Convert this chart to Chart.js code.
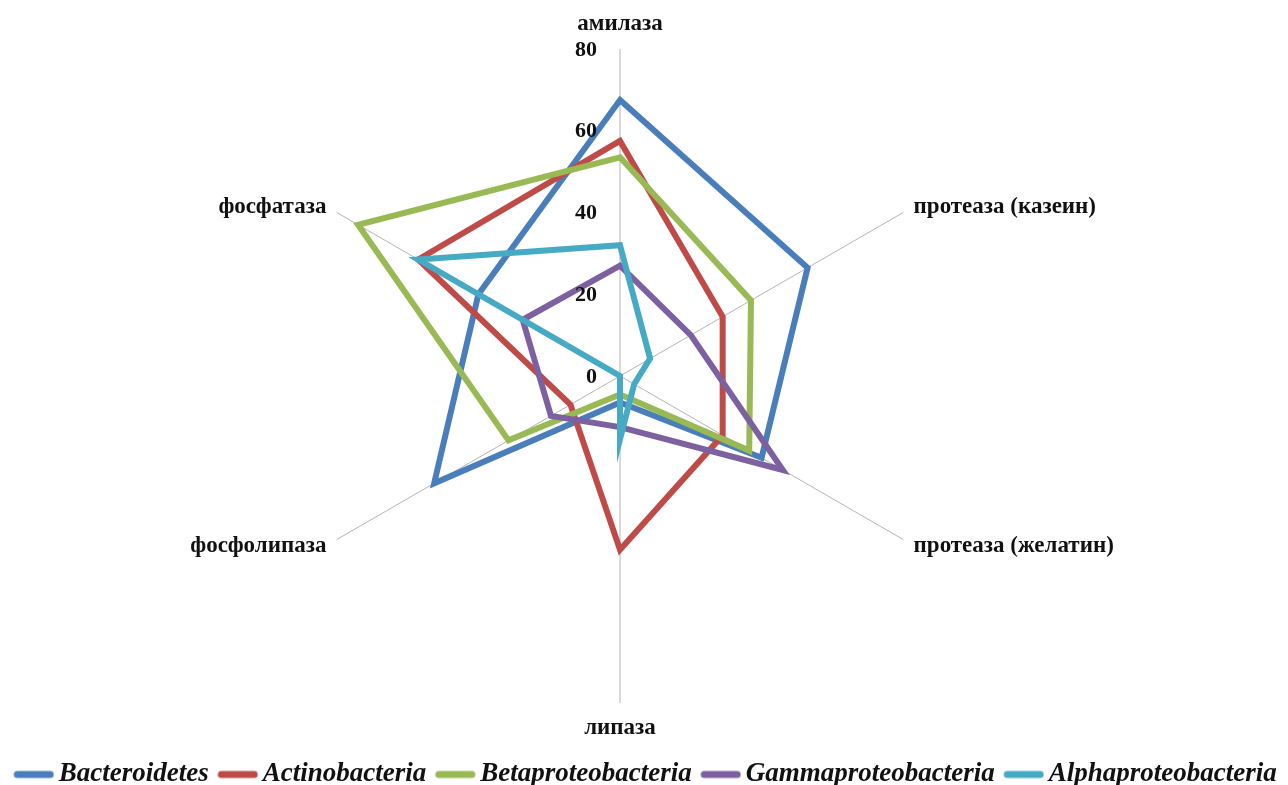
<!DOCTYPE html>
<html>
<head>
<meta charset="utf-8">
<script src="https://cdn.jsdelivr.net/npm/chart.js@4/dist/chart.umd.min.js"></script>
<style>
  html, body { margin: 0; padding: 0; background: #ffffff; }
  canvas { display: block; }
</style>
</head>
<body>
<canvas id="chart" width="1288" height="785"></canvas>
<script>
// Enzyme activities by bacterial group (radar axes, clockwise from the top)
const categories = ['амилаза', 'протеаза (казеин)', 'протеаза (желатин)', 'липаза', 'фосфолипаза', 'фосфатаза'];
const seriesNames = ['Bacteroidetes', 'Actinobacteria', 'Betaproteobacteria', 'Gammaproteobacteria', 'Alphaproteobacteria'];

const bacteroidetes       = [67.5, 53,   40,   6.5,  52.5, 40];
const actinobacteria      = [57.5, 29,   29,   42.5, 14,   57];
const betaproteobacteria  = [53.5, 37,   36.5, 4.5,  31.5, 74];
const gammaproteobacteria = [27,   20,   46,   12.5, 19.5, 27.5];
const alphaproteobacteria = [32,   8.5,  4,    15.5, 0,    57];

const tickValues = [0, 20, 40, 60, 80];

// Styling
const seriesColors = ['#4A7EBB', '#BE4B48', '#98B954', '#7D60A0', '#46AAC5'];
const FONT = "'Liberation Serif', 'Times New Roman', serif";
const TEXT_COLOR = '#111111';
const PLOT = { cx: 620, cy: 376, radius: 327 };

const seriesValues = [bacteroidetes, actinobacteria, betaproteobacteria, gammaproteobacteria, alphaproteobacteria];

const datasets = seriesNames.map((name, i) => ({
  label: name,
  data: seriesValues[i],
  borderColor: seriesColors[i],
  backgroundColor: 'rgba(0,0,0,0)',
  borderWidth: 6,
  borderJoinStyle: 'miter',
  fill: false,
  pointRadius: 0,
  pointHoverRadius: 0,
  clip: false,
  // later series are painted over earlier ones
  order: seriesNames.length - 1 - i
}));

// Legend swatch: a short rounded stroke, drawn off-centre so it sits close to its text
function legendSwatch(color) {
  const c = document.createElement('canvas');
  c.width = 52;
  c.height = 12;
  const g = c.getContext('2d');
  g.strokeStyle = color;
  g.lineWidth = 7;
  g.lineCap = 'round';
  g.beginPath();
  g.moveTo(15, 6);
  g.lineTo(48, 6);
  g.stroke();
  return c;
}
const swatches = seriesColors.map(legendSwatch);

// Axis value labels (left of the vertical spoke) and category labels
const radarText = {
  id: 'radarText',
  afterDatasetsDraw(chart) {
    const scale = chart.scales.r;
    const ctx = chart.ctx;
    ctx.save();
    ctx.fillStyle = TEXT_COLOR;

    ctx.font = `bold 22px ${FONT}`;
    ctx.textAlign = 'right';
    ctx.textBaseline = 'middle';
    scale.ticks.forEach(t => {
      const d = scale.getDistanceFromCenterForValue(t.value);
      ctx.fillText(String(t.value), scale.xCenter - 23, scale.yCenter - d + 1);
    });

    ctx.font = `bold 23px ${FONT}`;
    ctx.textBaseline = 'alphabetic';
    chart.data.labels.forEach((label, i) => {
      const s = Math.sin(scale.getIndexAngle(i));
      const pole = Math.abs(s) < 0.1;
      const p = scale.getPointPosition(i, scale.drawingArea + (pole ? 25 : 12));
      ctx.textAlign = pole ? 'center' : (s > 0 ? 'left' : 'right');
      ctx.fillText(label, p.x, p.y + 6);
    });
    ctx.restore();
  }
};

new Chart(document.getElementById('chart'), {
  type: 'radar',
  data: { labels: categories, datasets },
  options: {
    responsive: false,
    animation: false,
    events: [],
    layout: { padding: { bottom: -13 } },
    scales: {
      r: {
        min: tickValues[0],
        max: tickValues[tickValues.length - 1],
        ticks: { display: false, stepSize: tickValues[1] - tickValues[0] },
        grid: { display: false },
        angleLines: { display: true, color: '#b4b4b4', lineWidth: 1 },
        pointLabels: { display: false },
        afterFit(scale) {
          scale.xCenter = PLOT.cx;
          scale.yCenter = PLOT.cy;
          scale.drawingArea = PLOT.radius;
        }
      }
    },
    plugins: {
      tooltip: { enabled: false },
      legend: {
        position: 'bottom',
        labels: {
          usePointStyle: true,
          pointStyleWidth: 34,
          padding: 6.5,
          color: TEXT_COLOR,
          font: { family: FONT, size: 27, weight: 'bold', style: 'italic' },
          generateLabels(chart) {
            return chart.data.datasets.map((ds, i) => ({
              text: ds.label,
              fillStyle: ds.borderColor,
              strokeStyle: ds.borderColor,
              lineWidth: 0,
              pointStyle: swatches[i],
              hidden: false,
              fontColor: TEXT_COLOR,
              datasetIndex: i
            }));
          }
        }
      }
    }
  },
  plugins: [radarText]
});
</script>
</body>
</html>
